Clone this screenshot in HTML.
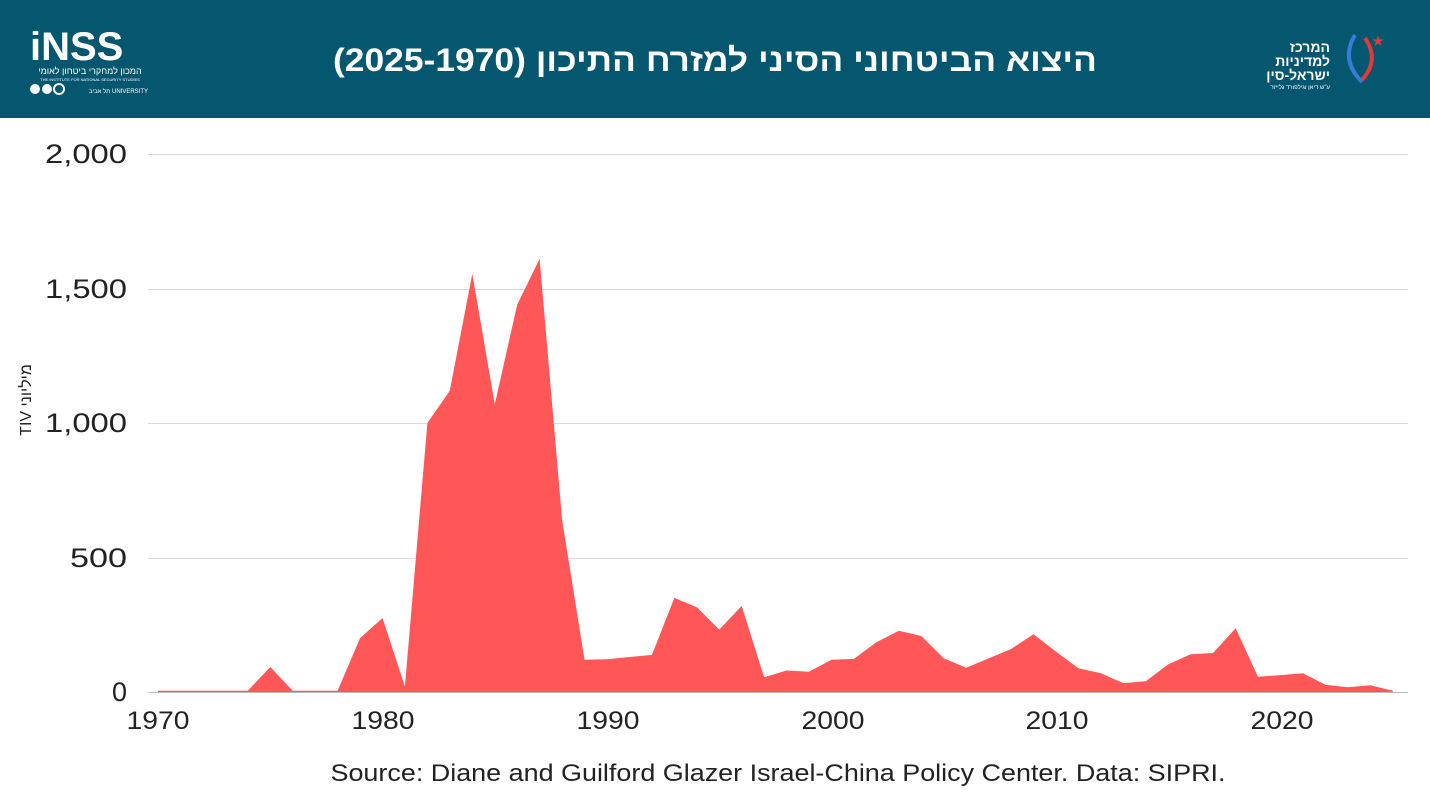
<!DOCTYPE html>
<html><head><meta charset="utf-8"><style>
body{margin:0;width:1430px;height:805px;background:#fff;overflow:hidden;font-family:"Liberation Sans","Noto Sans CJK SC",sans-serif}
.hdr{position:absolute;left:0;top:0;width:1430px;height:118px;background:#05566f}
</style></head><body>
<div class="hdr"></div>
<svg width="1430" height="805" style="position:absolute;left:0;top:0" font-family="Liberation Sans, Noto Sans CJK SC, sans-serif">
<text x="715" y="71" fill="#fff" font-size="32" font-weight="bold" text-anchor="middle" direction="rtl" textLength="764" lengthAdjust="spacingAndGlyphs">היצוא הביטחוני הסיני למזרח התיכון (2025-1970)</text>
<text x="30" y="60" fill="#fff" font-size="40" font-weight="bold">iNSS</text>
<text x="90" y="74" fill="#fff" font-size="9" text-anchor="middle">המכון למחקרי ביטחון לאומי</text>
<text x="90" y="81" fill="#fff" font-size="4" text-anchor="middle">THE INSTITUTE FOR NATIONAL SECURITY STUDIES</text>
<circle cx="35" cy="89" r="5" fill="#fff"/><circle cx="47" cy="89" r="5" fill="#fff"/><circle cx="59" cy="89" r="5" fill="none" stroke="#fff" stroke-width="2"/>
<text x="148" y="93" fill="#fff" font-size="6" text-anchor="end">תל אביב UNIVERSITY</text>
<text x="1330" y="52" fill="#fff" font-size="14" font-weight="bold" text-anchor="end">המרכז</text>
<text x="1330" y="66" fill="#fff" font-size="14" font-weight="bold" text-anchor="end">למדיניות</text>
<text x="1330" y="80" fill="#fff" font-size="14" font-weight="bold" text-anchor="end">ישראל-סין</text>
<text x="1330" y="89" fill="#fff" font-size="6" text-anchor="end">ע"ש דיאן וגילפורד גלייזר</text>
<path d="M1355 35 Q1340 60 1362 82" stroke="#3a7bd5" stroke-width="4" fill="none"/>
<path d="M1365 38 Q1380 60 1362 80" stroke="#e03a3a" stroke-width="4" fill="none"/>
<text x="1372" y="45" fill="#e03a3a" font-size="12">★</text>
<g stroke="#d9d9d9" stroke-width="1">
<line x1="148" y1="154.5" x2="1408" y2="154.5"/><line x1="148" y1="289.5" x2="1408" y2="289.5"/>
<line x1="148" y1="423.5" x2="1408" y2="423.5"/><line x1="148" y1="558.5" x2="1408" y2="558.5"/>
</g>
<polygon id="area" fill="#ff5757" points=""/>
<line x1="148" y1="692.5" x2="1408" y2="692.5" stroke="#bbb"/>
<g font-size="27" fill="#222" text-anchor="end">
<text x="127" y="163" textLength="82" lengthAdjust="spacingAndGlyphs">2,000</text>
<text x="127" y="298" textLength="82" lengthAdjust="spacingAndGlyphs">1,500</text>
<text x="127" y="432" textLength="82" lengthAdjust="spacingAndGlyphs">1,000</text>
<text x="127" y="567" textLength="57" lengthAdjust="spacingAndGlyphs">500</text>
<text x="127" y="701">0</text>
</g>
<g font-size="25" fill="#222" text-anchor="middle">
<text x="158" y="729" textLength="63" lengthAdjust="spacingAndGlyphs">1970</text>
<text x="383" y="729" textLength="63" lengthAdjust="spacingAndGlyphs">1980</text>
<text x="608" y="729" textLength="63" lengthAdjust="spacingAndGlyphs">1990</text>
<text x="833" y="729" textLength="63" lengthAdjust="spacingAndGlyphs">2000</text>
<text x="1057" y="729" textLength="63" lengthAdjust="spacingAndGlyphs">2010</text>
<text x="1282" y="729" textLength="63" lengthAdjust="spacingAndGlyphs">2020</text>
</g>
<text transform="translate(31,400) rotate(-90)" font-size="16" fill="#222" text-anchor="middle" direction="rtl">מיליוני TIV</text>
<text x="778" y="781" font-size="24" fill="#222" text-anchor="middle" textLength="895" lengthAdjust="spacingAndGlyphs">Source: Diane and Guilford Glazer Israel-China Policy Center. Data: SIPRI.</text>
</svg>
<script>
var d=[5,5,5,5,5,93,5,5,5,200,275,20,1000,1120,1555,1070,1440,1610,640,120,122,130,138,350,315,232,320,55,80,75,120,123,185,228,208,125,90,125,160,215,150,88,70,33,40,103,140,145,237,57,63,70,27,18,25,5];
var p=[];for(var i=0;i<d.length;i++){p.push((158+i*22.45).toFixed(1)+","+(692-d[i]*0.269).toFixed(1));}
p.push((158+55*22.45).toFixed(1)+",692");p.push("158,692");
document.getElementById("area").setAttribute("points",p.join(" "));
</script>
</body></html>
